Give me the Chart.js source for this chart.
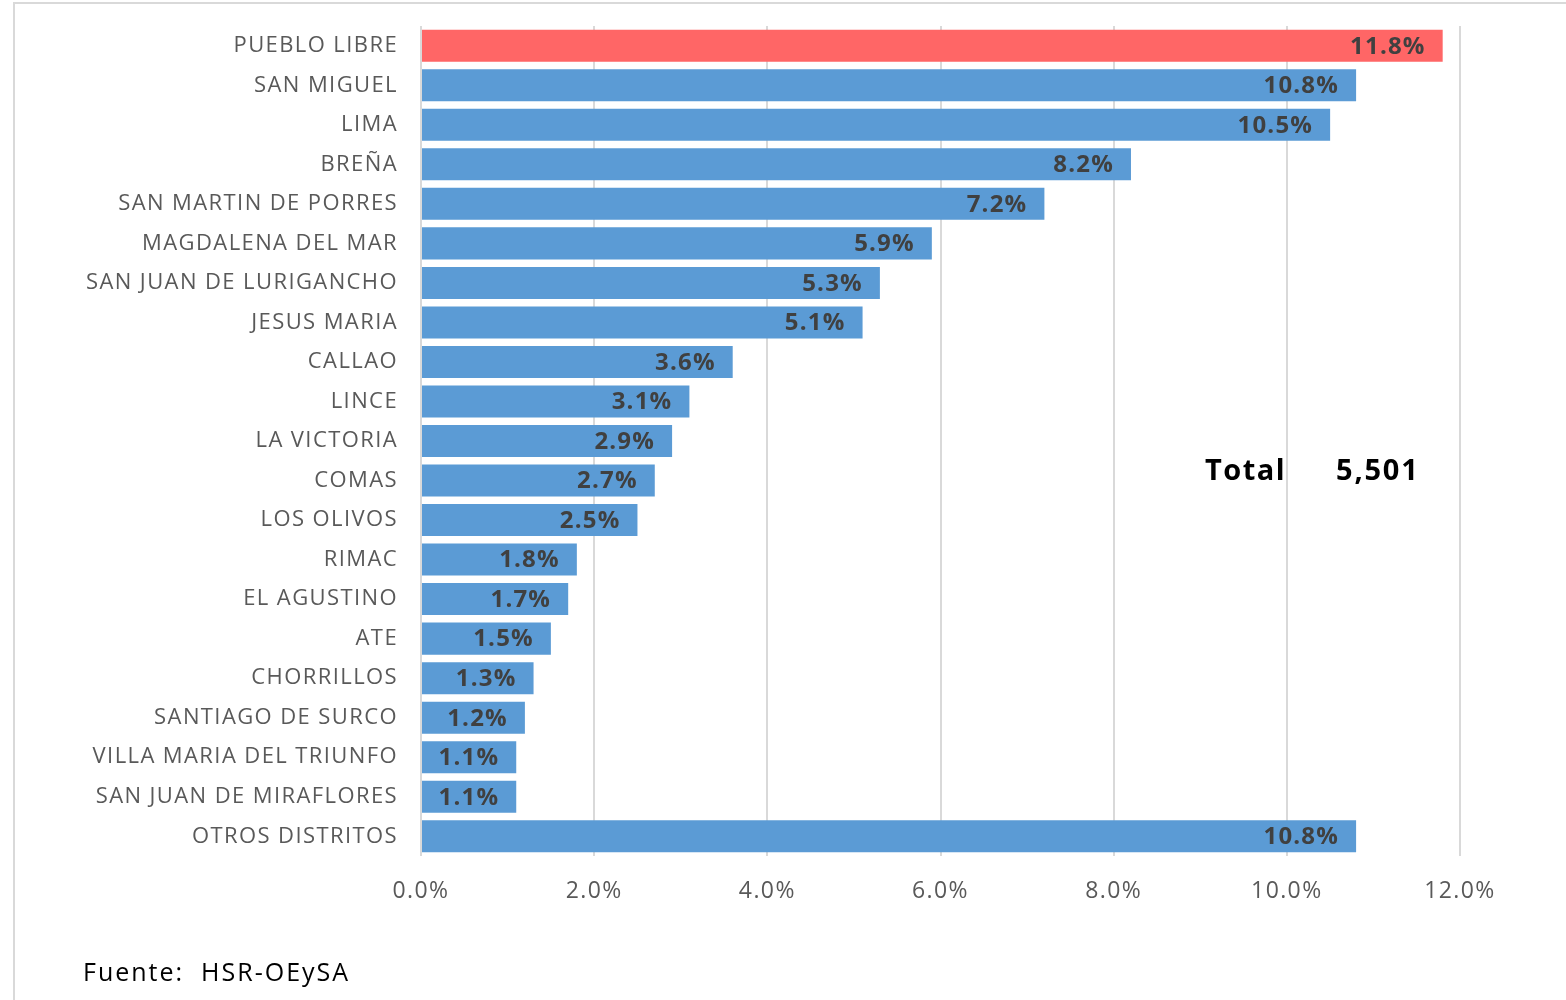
<!DOCTYPE html>
<html>
<head>
<meta charset="utf-8">
<script src="https://cdn.jsdelivr.net/npm/chart.js@4.4.1/dist/chart.umd.min.js"></script>
<style>
  body { margin: 0; background: #fff; font-family: "Open Sans", sans-serif; }
  #wrap { position: relative; width: 1566px; height: 1000px; overflow: hidden; }
  #frame { position: absolute; left: 13px; top: 2px; width: 1600px; height: 1100px; border: 2px solid #d9d9d9; box-sizing: border-box; }
  canvas { position: absolute; left: 0; top: 0; }
  .txt { position: absolute; white-space: nowrap; color: #000; }
</style>
</head>
<body>
<div id="wrap">
  <div id="frame"></div>
  <canvas id="distritosChart" width="1566" height="1000"></canvas>
  <div class="txt" style="left:1205px; top:449px; font-size:29px; font-weight:700; letter-spacing:1.5px;">Total</div>
  <div class="txt" style="left:1336px; top:449px; font-size:29px; font-weight:700; letter-spacing:1.8px;">5,501</div>
  <div class="txt" style="left:83px; top:954px; font-size:25px; letter-spacing:2px;">Fuente:&nbsp; HSR-OEySA</div>
</div>
<script>
// Distritos de procedencia (%)
const distritos = ['PUEBLO LIBRE', 'SAN MIGUEL', 'LIMA', 'BREÑA', 'SAN MARTIN DE PORRES',
    'MAGDALENA DEL MAR', 'SAN JUAN DE LURIGANCHO', 'JESUS MARIA', 'CALLAO', 'LINCE',
    'LA VICTORIA', 'COMAS', 'LOS OLIVOS', 'RIMAC', 'EL AGUSTINO', 'ATE', 'CHORRILLOS',
    'SANTIAGO DE SURCO', 'VILLA MARIA DEL TRIUNFO', 'SAN JUAN DE MIRAFLORES', 'OTROS DISTRITOS'];
const porcentajes = [11.8, 10.8, 10.5, 8.2, 7.2, 5.9, 5.3, 5.1, 3.6, 3.1, 2.9, 2.7, 2.5, 1.8, 1.7, 1.5, 1.3, 1.2, 1.1, 1.1, 10.8];
const xTicks = [0, 2, 4, 6, 8, 10, 12];

const colores = distritos.map((d, i) => i === 0 ? '#ff6666' : '#5b9bd5');

// wider letter spacing, closer to the original rendering
const spacing = {
    id: 'spacing',
    beforeDraw(chart) { chart.ctx.letterSpacing = '1.4px'; },
    afterDraw(chart) { chart.ctx.letterSpacing = '0px'; }
};

// draws the value at the end of each bar
const barLabels = {
    id: 'barLabels',
    afterDatasetsDraw(chart) {
        const ctx = chart.ctx;
        const meta = chart.getDatasetMeta(0);
        ctx.save();
        ctx.letterSpacing = '1.2px';
        ctx.font = 'bold 24px "Open Sans"';
        ctx.fillStyle = '#404040';
        ctx.textAlign = 'right';
        ctx.textBaseline = 'middle';
        meta.data.forEach((bar, i) => {
            ctx.fillText(porcentajes[i].toFixed(1) + '%', bar.x - 17, bar.y + 1);
        });
        ctx.restore();
    }
};

const ctx1 = document.getElementById('distritosChart').getContext('2d');
const distritosChart = new Chart(ctx1, {
    type: 'bar',
    data: {
        labels: distritos,
        datasets: [{
            data: porcentajes,
            backgroundColor: colores,
            barPercentage: 0.81,
            categoryPercentage: 1
        }]
    },
    plugins: [spacing, barLabels],
    options: {
        indexAxis: 'y',
        responsive: false,
        animation: false,
        layout: { padding: { top: 26, right: 106 } },
        plugins: {
            legend: { display: false },
            tooltip: { enabled: false }
        },
        scales: {
            x: {
                min: 0,
                max: 12,
                afterBuildTicks: (scale) => { scale.ticks = xTicks.map(v => ({ value: v })); },
                afterFit: (scale) => { scale.height = 144; },
                grid: { color: '#d9d9d9', lineWidth: 2, drawTicks: false },
                border: { display: false },
                ticks: {
                    padding: 22,
                    color: '#595959',
                    font: { family: 'Open Sans', size: 23 },
                    callback: (v) => v.toFixed(1) + '%'
                }
            },
            y: {
                afterFit: (scale) => {
                    scale.width = 421;
                    scale.paddingTop = 0;
                    scale.paddingBottom = 0;
                },
                grid: { display: false, drawTicks: false },
                border: { display: false },
                ticks: {
                    padding: 23,
                    color: '#595959',
                    font: { family: 'Open Sans', size: 22 }
                }
            }
        }
    }
});
</script>
</body>
</html>
